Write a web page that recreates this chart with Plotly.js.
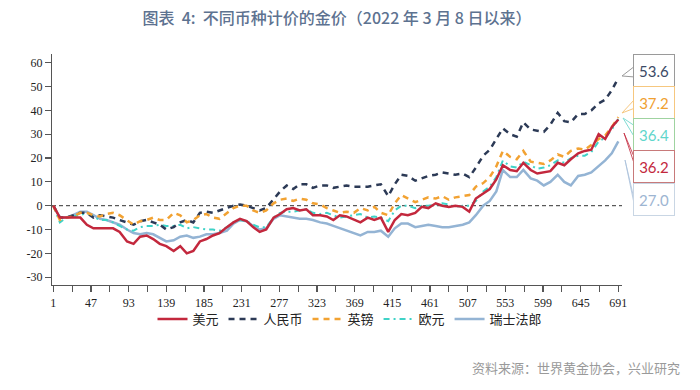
<!DOCTYPE html>
<html>
<head>
<meta charset="utf-8">
<script src="https://cdn.plot.ly/plotly-3.0.1.min.js"></script>
<style>
html,body{margin:0;padding:0;background:#fff;}
#chart{width:700px;height:390px;}
</style>
</head>
<body>
<div id="chart"></div>
<script>
// trading-day index (x axis)
var dayIndex = [1,9,17,25,34,42,50,58,66,74,82,91,99,107,115,123,131,139,148,156,164,172,180,188,196,204,213,221,229,237,245,253,261,270,278,286,294,302,310,318,327,335,343,351,359,
368,376,385,393,401,410,418,426,434,443,451,459,468,476,484,492,501,509,517,526,534,542,550,559,567,575,584,592,600,608,617,625,633,642,650,658,667,675,683,691];

var usd = [0,-5,-5,-5,-5,-8,-9.5,-9.5,-9.5,-9.5,-11,-15,-16,-13,-12.5,-14,-16,-17,-19,-17,-20,-19,-15,-14,-12.5,-11.5,-9,-7,-5.5,-6.5,-9,-11,-10,-5,-3.5,-1.5,-1,-2,-1.5,-4,-4,-4.5,-6,-4,-4.5,
-6,-7,-5,-6,-5,-11,-6,-3.5,-4,-3,-0.5,-1,1,0,-0.5,0,-0.5,-2.5,3,5,7,11,17,15,14.5,18,15,13.5,14,14.5,18,17,19.5,22,23,23.5,30,28,33,36.2];

var cny = [0,-5,-5,-4,-3,-3,-5,-4,-4.5,-5,-6,-7,-8,-6.5,-6,-7,-8,-10,-9,-7,-6,-7,-3,-2.5,-3,-2,-1,0,0.5,0,-1,-2,-1,2.5,6,8.5,7,9,9,7.5,8.5,8.5,7.5,8,8.5,
8,8,8,8.5,9,4,9,13,12.5,10.5,11.5,12.5,13,14,13.5,13,13.5,12,16,21,23.5,28,32.5,30,29,35,32,31.5,31,34,39,35.5,35,38.5,38.5,40,43,44.5,48.5,53.6];

var gbp = [0,-6,-5,-4.5,-3,-3,-4,-4.5,-3.5,-3,-4,-6,-8,-6.5,-6,-5,-6,-6,-3,-4,-7,-6,-4,-3.5,-5,-5.5,-3,-1,0,0,-2,-3,-2,1,2.5,3,2,3,2.5,1,0.5,-1,-2,-3,-2.5,
-3,-1,-2,-0.5,-3,-4,1,4.5,3,1.5,2.5,3.5,3,4,2.5,3.5,4,4.5,8,9.5,12,16.5,23,20.5,19.5,23,18.5,18,17.5,19,21.5,20.5,23,24,23.5,25.5,28,29.5,33,37.2];

var eur = [0,-7,-5,-4.5,-4,-3,-4.5,-6,-6,-7,-8.5,-10,-10.5,-9,-8.5,-8.5,-8,-8.5,-8.5,-8,-9.5,-9,-9.5,-10,-10,-10.5,-9,-7,-6,-6.5,-8,-9,-9,-5,-3,-2.5,-2.5,-2,-1.5,-3,-3.5,-3,-4,-5,-4.5,
-4,-3.5,-5,-4.5,-5,-6.5,-2,0,0,-1,0,0,0.5,1,0.5,-0.5,0,0,2,6,8,12,19,16.5,16,18.5,17,15.5,16,17,19,18,20,21,21,22.5,27,28.5,32,36.4];

var chf = [0,-5,-5,-4,-2.5,-2.5,-4,-5.5,-6,-7,-8,-10,-11.5,-12,-11.5,-12,-13.5,-15,-14.5,-13,-12.5,-13.5,-13,-12,-12,-11.5,-10.5,-7.5,-6,-6.5,-8.5,-10,-9.5,-5.5,-4,-4.5,-5,-5.5,-5.5,-6,-7,-7.5,-8.5,-9.5,-10.5,
-11.5,-12.5,-11,-11,-10.5,-13,-9.5,-7.5,-7.5,-9,-8.5,-8,-8.5,-9,-9,-8.5,-8,-7,-4,0,2,6,15,12,12,15,11.5,10.5,8.5,10,13,10,8.5,12.5,13,14,16.5,19,22,27];

var seriesNames = ['美元','人民币','英镑','欧元','瑞士法郎'];
var endLabels = ['53.6','37.2','36.4','36.2','27.0'];

var xTickVals = [];
var xTickText = [];
for (var k = 0; k <= 30; k++) {
  var v = 1 + 23 * k;
  xTickVals.push(v);
  xTickText.push(k % 2 === 0 ? String(v) : '');
}
var yTickVals = [-30,-20,-10,0,10,20,30,40,50,60];
var yTickText = ['-30','-20','-10','0','10','20','30','40','50','60'];

// plot area in pixels
var L = 52, R = 622, T = 54, B = 285;
function px(x){ return (x - L) / (R - L); }
function py(y){ return (B - y) / (B - T); }
function path(pts){
  return 'M ' + pts.map(function(p){ return px(p[0]).toFixed(4) + ',' + py(p[1]).toFixed(4); }).join(' L ') + ' Z';
}

var traces = [
  {x: dayIndex, y: usd, name: seriesNames[0], mode:'lines', line:{color:'#c3283d', width:2.5}},
  {x: dayIndex, y: cny, name: seriesNames[1], mode:'lines', line:{color:'#2c3a56', width:2.5, dash:'6px,5px'}},
  {x: dayIndex, y: gbp, name: seriesNames[2], mode:'lines', line:{color:'#f2a232', width:2.5, dash:'6px,5px'}},
  {x: dayIndex, y: eur, name: seriesNames[3], mode:'lines', line:{color:'#3fd2c7', width:2, dash:'6px,4px,2px,4px'}},
  {x: dayIndex, y: chf, name: seriesNames[4], mode:'lines', line:{color:'#94b4d4', width:2.5}}
];
// draw order: CHF behind
traces = [traces[4], traces[3], traces[1], traces[2], traces[0]];
traces.forEach(function(t){ t.hoverinfo = 'skip'; });
var legendOrder = {'美元':1,'人民币':2,'英镑':3,'欧元':4,'瑞士法郎':5};
traces.forEach(function(t){ t.legendrank = legendOrder[t.name]; });

var boxColors = [
  {text:'#3b4a66', border:'#9a9a9a'},
  {text:'#f0a030', border:'#f6c77f'},
  {text:'#5fd6cb', border:'#9fd3a0'},
  {text:'#c3283d', border:'#c87a7a'},
  {text:'#9db5d2', border:'#c9d6e4'}
];
var boxCenters = [70, 102, 134, 166.5, 199];

var annotations = [];
boxCenters.forEach(function(cy, i){
  annotations.push({
    xref:'paper', yref:'paper', x: px(654), y: py(cy), xanchor:'center', yanchor:'middle',
    text: endLabels[i], showarrow:false, width:38, height:29,
    bordercolor: boxColors[i].border, borderwidth:1, bgcolor:'#ffffff',
    font:{family:'Lato, Carlito, sans-serif', size:15, color: boxColors[i].text}
  });
});
annotations.push({
  xref:'paper', yref:'paper', x: px(682), y: py(367), xanchor:'right', yanchor:'middle',
  text:'资料来源：世界黄金协会，兴业研究', showarrow:false,
  font:{family:'Noto Sans CJK SC, sans-serif', size:13, color:'#9a9a9a'}
});

var shapes = [
  {type:'line', xref:'paper', yref:'y', x0:0, x1:px(622), y0:0, y1:0, line:{color:'#333', width:1, dash:'4px,3px'}, layer:'below'},
  {type:'path', xref:'paper', yref:'paper', path: path([[635,66],[622,76],[635,77]]), fillcolor:'#fff', line:{color:'#9a9a9a', width:1}},
  {type:'path', xref:'paper', yref:'paper', path: path([[635,99],[622,113],[635,108]]), fillcolor:'#fff', line:{color:'#f6c77f', width:1}},
  {type:'path', xref:'paper', yref:'paper', path: path([[635,126],[623,118],[635,138]]), fillcolor:'#fff', line:{color:'#7fdcd3', width:1}},
  {type:'path', xref:'paper', yref:'paper', path: path([[624,133],[635,159],[635,166]]), fillcolor:'#fff', line:{color:'#c3283d', width:0.8}},
  {type:'path', xref:'paper', yref:'paper', path: path([[625,160],[635,203],[635,208]]), fillcolor:'#fff', line:{color:'#a9c0da', width:0.8}}
];

var layout = {
  width:700, height:390,
  margin:{l:L, r:700-R, t:T, b:390-B, pad:0},
  paper_bgcolor:'#fff', plot_bgcolor:'#fff',
  showlegend:true,
  title:{text:'图表  4:  不同币种计价的金价（2022 年 3 月 8 日以来）', x:0.5, xref:'paper', xanchor:'center', y:1-18/390, yref:'container', yanchor:'middle',
    font:{family:'Noto Sans CJK SC, sans-serif', size:16, color:'#5d7290', weight:500}},
  xaxis:{range:[-0.6,695.5], tickmode:'array', tickvals:xTickVals, ticktext:xTickText,
    showgrid:false, zeroline:false, showline:true, linecolor:'#555', linewidth:1.2,
    ticks:'outside', ticklen:6, tickcolor:'#555', tickwidth:1.2,
    tickfont:{family:'Liberation Serif, serif', size:12, color:'#222'}},
  yaxis:{range:[-33.3,63.7], tickmode:'array', tickvals:yTickVals, ticktext:yTickText,
    showgrid:false, zeroline:false, showline:true, linecolor:'#555', linewidth:1.2,
    ticks:'outside', ticklen:6, tickcolor:'#555', tickwidth:1.2,
    tickfont:{family:'Liberation Serif, serif', size:12, color:'#222'}},
  legend:{orientation:'h', x:px(350), xanchor:'center', y:py(319), yanchor:'middle',
    font:{family:'Liberation Serif, Noto Sans CJK SC, serif', size:13, color:'#222'},
    itemwidth:30, tracegroupgap:0, bgcolor:'rgba(0,0,0,0)'},
  annotations: annotations,
  shapes: shapes
};

Plotly.newPlot('chart', traces, layout, {staticPlot:true, displayModeBar:false});
</script>
</body>
</html>
